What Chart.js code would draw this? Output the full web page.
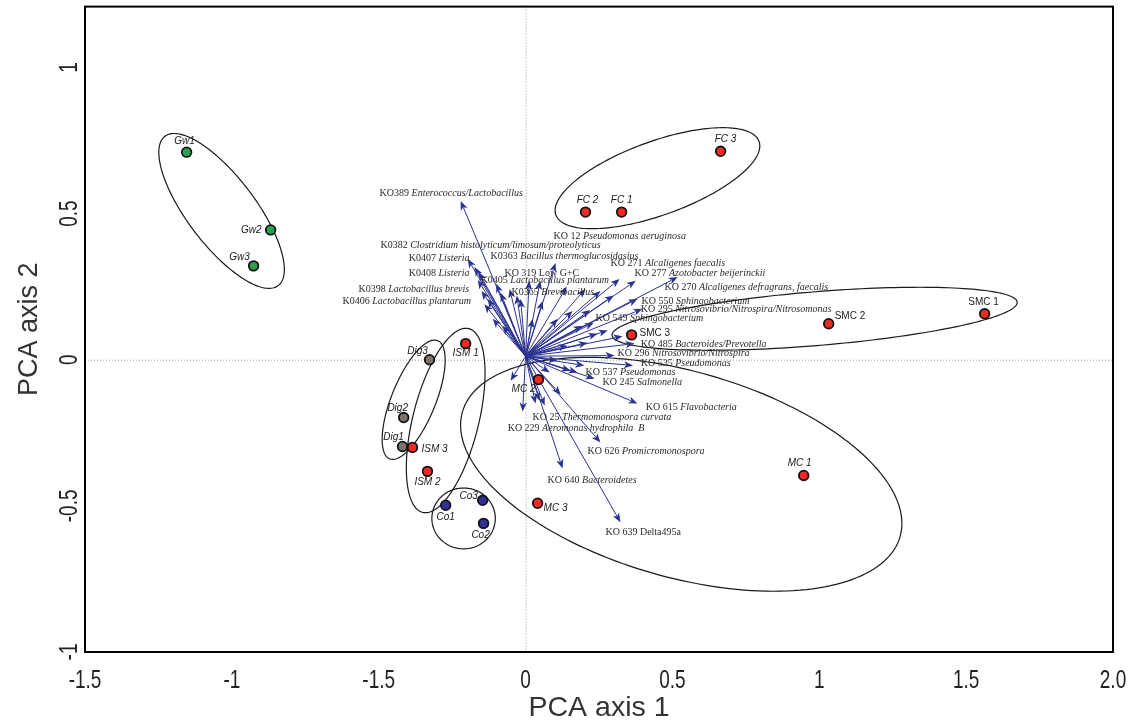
<!DOCTYPE html>
<html lang="en">
<head>
  <meta charset="UTF-8">
  <title>PCA biplot</title>
  <script src="https://cdn.jsdelivr.net/npm/chart.js"></script>
  <style>
    html, body { margin: 0; padding: 0; background: #fff; }
  </style>
</head>
<body>
  <canvas id="pcaChart" width="1131" height="725"></canvas>
  <script>
    // samples (site scores)
    const sampleNames = ['Gw1', 'Gw2', 'Gw3', 'FC 1', 'FC 2', 'FC 3', 'SMC 1', 'SMC 2', 'SMC 3',
      'MC 1', 'MC 2', 'MC 3', 'ISM 1', 'ISM 2', 'ISM 3', 'Dig1', 'Dig2', 'Dig3', 'Co1', 'Co2', 'Co3'];
    const sampleGroup = ['Gw', 'Gw', 'Gw', 'FC', 'FC', 'FC', 'SMC', 'SMC', 'SMC',
      'MC', 'MC', 'MC', 'ISM', 'ISM', 'ISM', 'Dig', 'Dig', 'Dig', 'Co', 'Co', 'Co'];
    const sampleX = [-1.154, -0.868, -0.926, 0.327, 0.204, 0.664, 1.563, 1.032, 0.361,
      0.947, 0.044, 0.041, -0.204, -0.334, -0.385, -0.419, -0.415, -0.327, -0.272, -0.143, -0.146];
    const sampleY = [0.710, 0.444, 0.321, 0.505, 0.505, 0.713, 0.157, 0.123, 0.085,
      -0.396, -0.068, -0.491, 0.055, -0.382, -0.300, -0.297, -0.198, 0.000, -0.498, -0.560, -0.481];

    // groups and their ellipses (data units, angle in degrees)
    const groups = ['Gw', 'FC', 'SMC', 'MC', 'ISM', 'Dig', 'Co'];
    const ellipseCx = [-1.035, 0.449, 0.984, 0.530, -0.272, -0.381, -0.211];
    const ellipseCy = [0.509, 0.621, 0.140, -0.392, -0.208, -0.137, -0.543];
    const ellipseA = [0.320, 0.368, 0.692, 0.775, 0.324, 0.218, 0.108];
    const ellipseB = [0.116, 0.126, 0.092, 0.352, 0.112, 0.075, 0.104];
    const ellipseAngle = [-53, 20, 4.7, -16, 76, 68, 0];

    // species vectors (labelled ones first)
    const arrowCodes = ['KO389', 'K0382', 'K0407', 'K0408', 'K0398', 'K0406', 'K0363', 'KO 319', 'K0405', 'K0365',
      'KO 12', 'KO 271', 'KO 277', 'KO 270', 'KO 550', 'KO 295', 'KO 549', 'KO 485', 'KO 296', 'KO 535',
      'KO 537', 'KO 245', 'KO 615', 'KO 25', 'KO 229', 'KO 626', 'KO 640', 'KO 639'];
    const arrowTaxa = ['Enterococcus/Lactobacillus', 'Clostridium histolyticum/limosum/proteolyticus', 'Listeria', 'Listeria',
      'Lactobacillus brevis', 'Lactobacillus plantarum', 'Bacillus thermoglucosidasius', 'Low G+C', 'Lactobacillus plantarum',
      'Brevibacillus', 'Pseudomonas aeruginosa', 'Alcaligenes faecalis', 'Azotobacter beijerinckii',
      'Alcaligenes defragrans, faecalis', 'Sphingobacterium', 'Nitrosovibrio/Nitrospira/Nitrosomonas', 'Sphingobacterium',
      'Bacteroides/Prevotella', 'Nitrosovibrio/Nitrospira', 'Pseudomonas', 'Pseudomonas', 'Salmonella', 'Flavobacteria',
      'Thermomonospora curvata', 'Aeromonas hydrophila  B', 'Promicromonospora', 'Bacteroidetes', 'Delta495a'];
    const arrowX = [-0.221, -0.197, -0.174, -0.163, -0.150, -0.129, 0.102, -0.054, -0.085, -0.017,
      0.204, 0.320, 0.375, 0.518, 0.381, 0.398, 0.232, 0.371, 0.303, 0.366,
      0.177, 0.235, 0.381, 0.034, -0.010, 0.255, 0.126, 0.323,
      -0.051, 0.065, 0.153, 0.245, 0.211, 0.255, 0.109, 0.160, 0.194, 0.058, 0.024, -0.112, -0.078, 0.143, 0.109, 0.082, 0.047, 0.140,
      -0.140, -0.100, -0.030, 0.050, 0.300, 0.280, 0.330, 0.200, 0.120, 0.220, 0.012, -0.160];
    const arrowY = [0.543, 0.345, 0.317, 0.273, 0.235, 0.208, 0.331, 0.242, 0.229, 0.208,
      0.242, 0.276, 0.270, 0.283, 0.208, 0.174, 0.126, 0.055, 0.014, -0.020,
      -0.044, -0.065, -0.150, -0.150, -0.177, -0.283, -0.372, -0.556,
      -0.072, -0.157, -0.038, 0.089, 0.058, 0.235, 0.140, 0.167, 0.116, 0.201, 0.140, 0.140, 0.116, 0.048, -0.003, -0.044, -0.140, 0.250,
      0.190, 0.260, 0.220, 0.270, 0.220, 0.100, 0.080, -0.020, -0.120, 0.170, 0.270, 0.300];

    // axis ticks
    const xTicks = [-1.5, -1, -0.5, 0, 0.5, 1, 1.5, 2];
    const xTickLabels = ['-1.5', '-1', '-1.5', '0', '0.5', '1', '1.5', '2.0'];
    const yTicks = [-1, -0.5, 0, 0.5, 1];
    const yTickLabels = ['-1', '-0.5', '0', '0.5', '1'];

    // layout: vector label anchors (left/middle), sample label offsets in px
    const vectorLabelPos = [[-0.497, 0.570], [-0.494, 0.392], [-0.398, 0.348], [-0.398, 0.294], [-0.569, 0.242],
      [-0.623, 0.198], [-0.119, 0.355], [-0.072, 0.297], [-0.153, 0.270], [-0.048, 0.232],
      [0.095, 0.423], [0.289, 0.328], [0.371, 0.297], [0.473, 0.246], [0.395, 0.201],
      [0.392, 0.171], [0.238, 0.140], [0.392, 0.051], [0.313, 0.020], [0.392, -0.014],
      [0.204, -0.044], [0.262, -0.078], [0.409, -0.164], [0.024, -0.198], [-0.061, -0.235],
      [0.211, -0.314], [0.075, -0.413], [0.272, -0.590]];
    const plainTaxa = ['Low G+C', 'Delta495a'];
    const sampleLabelOffset = {
      'Gw1': [-2, -11, 'center'], 'Gw2': [-9, 0, 'right'], 'Gw3': [-14, -9, 'center'],
      'FC 1': [0, -12, 'center'], 'FC 2': [2, -12, 'center'], 'FC 3': [5, -12, 'center'],
      'SMC 1': [-1, -12, 'center'], 'SMC 2': [6, -7, 'left'], 'SMC 3': [8, -2, 'left'],
      'MC 1': [-4, -12, 'center'], 'MC 2': [-15, 10, 'center'], 'MC 3': [6, 5, 'left'],
      'ISM 1': [0, 10, 'center'], 'ISM 2': [0, 11, 'center'], 'ISM 3': [9, 2, 'left'],
      'Dig1': [-9, -9, 'center'], 'Dig2': [-6, -9, 'center'], 'Dig3': [-12, -8, 'center'],
      'Co1': [0, 12, 'center'], 'Co2': [-3, 12, 'center'], 'Co3': [-14, -4, 'center']
    };
    const groupColors = { Gw: '#27a04f', FC: '#ee2a24', SMC: '#ee2a24', MC: '#ee2a24', ISM: '#ee2a24', Dig: '#7d736d', Co: '#2e3192' };
    const vectorOrigin = [0, 0.012];
    const vectorColor = '#2b3290';
    const sans = "'Liberation Sans', Arial, sans-serif";
    const serif = "'Liberation Serif', 'Times New Roman', serif";

    const datasets = groups.map(g => ({
      label: g,
      data: sampleNames.map((n, i) => ({ x: sampleX[i], y: sampleY[i], name: n, g: sampleGroup[i] })).filter(p => p.g === g),
      backgroundColor: groupColors[g],
      borderColor: '#111',
      borderWidth: 1.8,
      pointRadius: 4.8,
      pointHoverRadius: 4.8
    }));

    // condensed text helper (the original tick font is a narrow sans)
    function narrowText(ctx, text, x, y, rot, size, squeeze) {
      ctx.save();
      ctx.translate(x, y);
      ctx.rotate(rot);
      ctx.scale(squeeze, 1);
      ctx.font = size + 'px ' + sans;
      ctx.textAlign = 'center';
      ctx.textBaseline = 'middle';
      ctx.fillText(text, 0, 0);
      ctx.restore();
    }

    const biplot = {
      id: 'biplot',
      beforeDatasetsDraw(chart) {
        const { ctx, chartArea: ca, scales: { x, y } } = chart;
        ctx.save();
        ctx.beginPath();
        ctx.rect(ca.left, ca.top, ca.right - ca.left, ca.bottom - ca.top);
        ctx.clip();

        // zero lines
        ctx.strokeStyle = '#9a9a9a';
        ctx.lineWidth = 1;
        ctx.setLineDash([1, 2]);
        ctx.beginPath();
        ctx.moveTo(x.getPixelForValue(0) + 0.5, ca.top);
        ctx.lineTo(x.getPixelForValue(0) + 0.5, ca.bottom);
        ctx.moveTo(ca.left, y.getPixelForValue(0) + 0.5);
        ctx.lineTo(ca.right, y.getPixelForValue(0) + 0.5);
        ctx.stroke();
        ctx.setLineDash([]);

        // group ellipses
        ctx.strokeStyle = '#1a1a1a';
        ctx.lineWidth = 1.2;
        groups.forEach((g, k) => {
          const th = ellipseAngle[k] * Math.PI / 180;
          ctx.beginPath();
          for (let s = 0; s <= 180; s++) {
            const t = s / 180 * 2 * Math.PI;
            const dx = ellipseA[k] * Math.cos(t), dy = ellipseB[k] * Math.sin(t);
            const vx = ellipseCx[k] + dx * Math.cos(th) - dy * Math.sin(th);
            const vy = ellipseCy[k] + dx * Math.sin(th) + dy * Math.cos(th);
            const X = x.getPixelForValue(vx), Y = y.getPixelForValue(vy);
            if (s === 0) ctx.moveTo(X, Y); else ctx.lineTo(X, Y);
          }
          ctx.closePath();
          ctx.stroke();
        });

        // vectors
        const ox = x.getPixelForValue(vectorOrigin[0]), oy = y.getPixelForValue(vectorOrigin[1]);
        ctx.strokeStyle = vectorColor;
        ctx.fillStyle = vectorColor;
        ctx.lineWidth = 1;
        arrowX.forEach((vx, i) => {
          const tx = x.getPixelForValue(vx), ty = y.getPixelForValue(arrowY[i]);
          const ang = Math.atan2(ty - oy, tx - ox);
          const hl = 9, hw = 3.6;
          ctx.beginPath();
          ctx.moveTo(ox, oy);
          ctx.lineTo(tx - Math.cos(ang) * hl * 0.8, ty - Math.sin(ang) * hl * 0.8);
          ctx.stroke();
          ctx.beginPath();
          ctx.moveTo(tx, ty);
          ctx.lineTo(tx - Math.cos(ang) * hl - Math.sin(ang) * hw, ty - Math.sin(ang) * hl + Math.cos(ang) * hw);
          ctx.lineTo(tx - Math.cos(ang) * hl * 0.75, ty - Math.sin(ang) * hl * 0.75);
          ctx.lineTo(tx - Math.cos(ang) * hl + Math.sin(ang) * hw, ty - Math.sin(ang) * hl - Math.cos(ang) * hw);
          ctx.closePath();
          ctx.fill();
        });

        // vector labels
        ctx.textBaseline = 'middle';
        ctx.textAlign = 'left';
        ctx.fillStyle = '#2a2a2a';
        vectorLabelPos.forEach((p, i) => {
          const lx = x.getPixelForValue(p[0]), ly = y.getPixelForValue(p[1]);
          const code = arrowCodes[i] + ' ';
          ctx.font = '10px ' + serif;
          ctx.fillText(code, lx, ly);
          const w = ctx.measureText(code).width;
          ctx.font = (plainTaxa.includes(arrowTaxa[i]) ? '' : 'italic ') + '10px ' + serif;
          ctx.fillText(arrowTaxa[i], lx + w, ly);
        });
        ctx.restore();
      },
      afterDatasetsDraw(chart) {
        const { ctx, chartArea: ca, scales: { x, y } } = chart;
        ctx.save();
        // sample labels
        ctx.fillStyle = '#1a1a1a';
        ctx.textBaseline = 'middle';
        sampleNames.forEach((n, i) => {
          const o = sampleLabelOffset[n];
          ctx.font = (sampleGroup[i] === 'SMC' ? '' : 'italic ') + '10px ' + sans;
          ctx.textAlign = o[2];
          ctx.fillText(n, x.getPixelForValue(sampleX[i]) + o[0], y.getPixelForValue(sampleY[i]) + o[1]);
        });

        // tick labels (narrow face)
        ctx.fillStyle = '#222';
        xTicks.forEach((v, i) => narrowText(ctx, xTickLabels[i], x.getPixelForValue(v), ca.bottom + 29, 0, 25, 0.76));
        yTicks.forEach((v, i) => narrowText(ctx, yTickLabels[i], 70, y.getPixelForValue(v), -Math.PI / 2, 25, 0.76));

        // frame
        ctx.strokeStyle = '#000';
        ctx.lineWidth = 2;
        ctx.strokeRect(ca.left, ca.top, ca.right - ca.left, ca.bottom - ca.top);
        ctx.restore();
      }
    };

    new Chart(document.getElementById('pcaChart'), {
      type: 'scatter',
      data: { datasets },
      options: {
        responsive: false,
        animation: false,
        devicePixelRatio: 1,
        layout: { padding: { top: 5, right: 18, left: 0, bottom: 0 } },
        plugins: { legend: { display: false }, tooltip: { enabled: false } },
        scales: {
          x: {
            type: 'linear', min: -1.5, max: 2.0,
            afterBuildTicks: s => { s.ticks = xTicks.map(v => ({ value: v })); },
            afterFit: s => { s.height = 73; s.paddingLeft = 0; s.paddingRight = 0; },
            grid: { display: false, drawTicks: false },
            border: { display: false },
            ticks: { display: false },
            title: {
              display: true, text: 'PCA axis 1', color: '#333',
              font: { family: sans, size: 28.5 },
              padding: { top: 0, bottom: 0 }
            }
          },
          y: {
            type: 'linear', min: -1.0, max: 1.208,
            afterBuildTicks: s => { s.ticks = yTicks.map(v => ({ value: v })); },
            afterFit: s => { s.width = 85; s.paddingTop = 0; s.paddingBottom = 0; },
            grid: { display: false, drawTicks: false },
            border: { display: false },
            ticks: { display: false },
            title: {
              display: true, text: 'PCA axis 2', color: '#333',
              font: { family: sans, size: 27 },
              padding: { top: 13, bottom: 0 }
            }
          }
        }
      },
      plugins: [biplot]
    });
  </script>
</body>
</html>
